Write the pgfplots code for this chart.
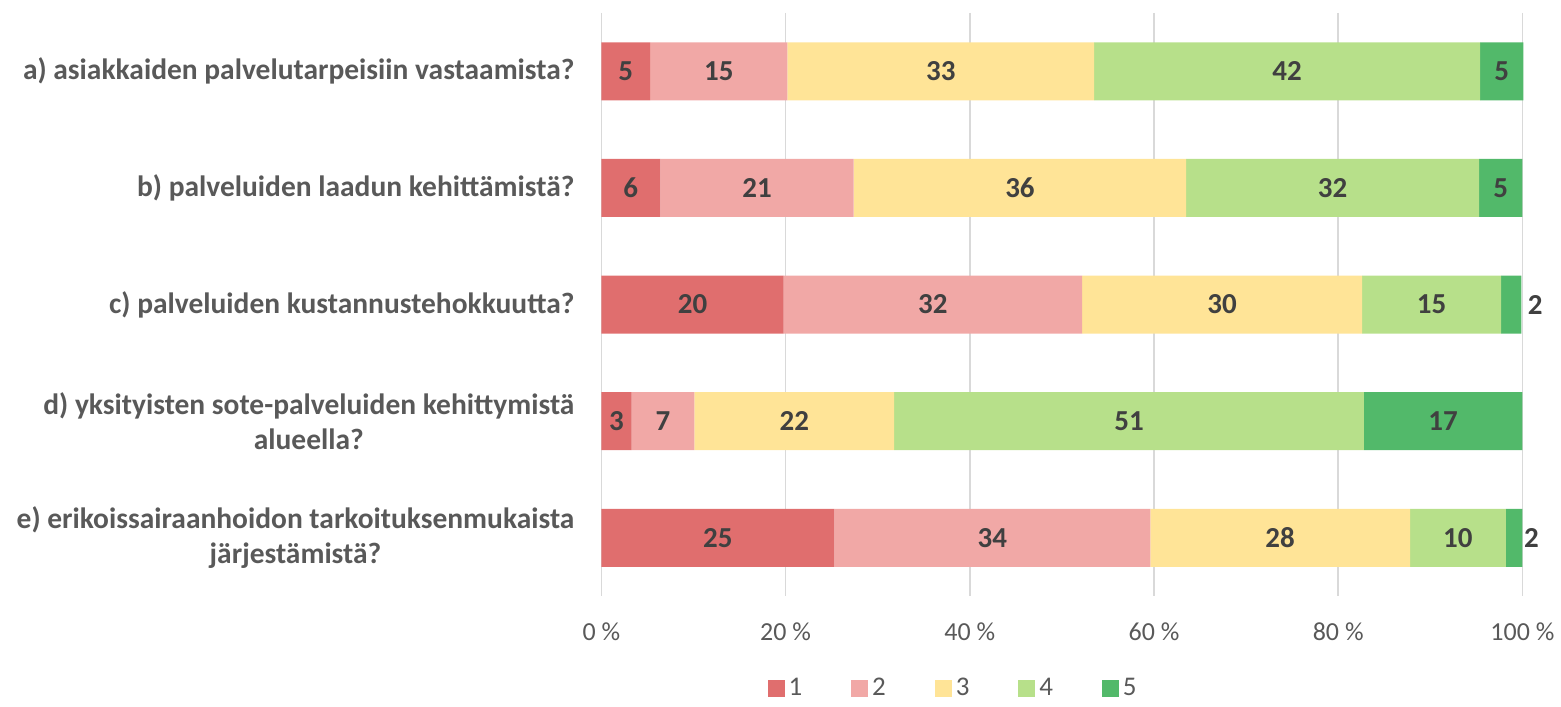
\documentclass[border=0pt]{standalone}
\usepackage{pgfplots}
\pgfplotsset{compat=1.18}
\usepackage{pgfplotstable}
\usepackage{fontspec}
\setmainfont{Carlito}
\definecolor{c1}{HTML}{E06E6E}
\definecolor{c2}{HTML}{F1A8A6}
\definecolor{c3}{HTML}{FFE497}
\definecolor{c4}{HTML}{B7E08A}
\definecolor{c5}{HTML}{52B96A}
\definecolor{gridc}{HTML}{D9D9D9}
\definecolor{labc}{HTML}{404040}
\definecolor{txtc}{HTML}{595959}

\pgfplotstableread{
y v lab off
0 5.3 5 0
1 6.4 6 0
2 19.8 20 0
3 3.3 3 0
4 25.3 25 0
}\sA
\pgfplotstableread{
y v lab off
0 14.9 15 0
1 21.0 21 0
2 32.4 32 0
3 6.8 7 0
4 34.3 34 0
}\sB
\pgfplotstableread{
y v lab off
0 33.3 33 0
1 36.1 36 0
2 30.4 30 0
3 21.7 22 0
4 28.2 28 0
}\sC
\pgfplotstableread{
y v lab off
0 41.9 42 0
1 31.8 32 0
2 15.1 15 0
3 51.0 51 0
4 10.4 10 0
}\sD
\pgfplotstableread{
y v lab off
0 4.7 5 0
1 4.7 5 0
2 2.2 2 12
3 17.2 17 0
4 1.8 2 8.75
}\sE

\begin{document}
\begin{tikzpicture}
\begin{axis}[
  name=ax,
  xbar stacked,
  bar width=29pt,
  scale only axis,
  width=461pt, height=291.9pt,
  xmin=0, xmax=100,
  ymin=-0.5, ymax=4.5,
  y dir=reverse,
  axis line style={draw=none},
  major tick length=0pt,
  xmajorgrids,
  grid style={gridc, line width=0.75pt},
  xtick={0,20,40,60,80,100},
  xticklabels={0 \%,20 \%,40 \%,60 \%,80 \%,100 \%},
  xticklabel style={font=\fontsize{13}{15}\selectfont, text=txtc, yshift=-10pt},
  ytick={0,1,2,3,4},
  yticklabels={
    {a) asiakkaiden palvelutarpeisiin vastaamista?},
    {b) palveluiden laadun kehittämistä?},
    {c) palveluiden kustannustehokkuutta?},
    {d) yksityisten sote-palveluiden kehittymistä\\alueella?},
    {e) erikoissairaanhoidon tarkoituksenmukaista\\järjestämistä?}},
  yticklabel style={font=\bfseries\fontsize{14.75}{17.5}\selectfont, text=txtc, align=center, xshift=-10pt},
  point meta=explicit symbolic,
  nodes near coords={\pgfplotspointmeta},
  visualization depends on={\thisrow{off} \as \off},
  every node near coord/.append style={anchor=center, xshift={\off*1pt},
     font=\bfseries\fontsize{14.5}{16}\selectfont, text=labc},
  legend style={at={(0.383,-0.158)}, anchor=center, draw=none, fill=none,
     legend columns=5, font=\fontsize{13.5}{15}\selectfont, text=txtc,
     /tikz/every even column/.append style={column sep=22.5pt}},
  legend image code/.code={\fill[#1] (0pt,-4.25pt) rectangle (8.5pt,4.25pt);},
  clip=false,
]
\addplot[fill=c1, draw=none] table[x=v, y=y, meta=lab] {\sA};
\addplot[fill=c2, draw=none] table[x=v, y=y, meta=lab] {\sB};
\addplot[fill=c3, draw=none] table[x=v, y=y, meta=lab] {\sC};
\addplot[fill=c4, draw=none] table[x=v, y=y, meta=lab] {\sD};
\addplot[fill=c5, draw=none] table[x=v, y=y, meta=lab] {\sE};
\legend{1,2,3,4,5}
\end{axis}
\path[use as bounding box] ([xshift=-301pt, yshift=-52pt]ax.south west) rectangle ([xshift=18.5pt, yshift=6.5pt]ax.north east);
\end{tikzpicture}
\end{document}
